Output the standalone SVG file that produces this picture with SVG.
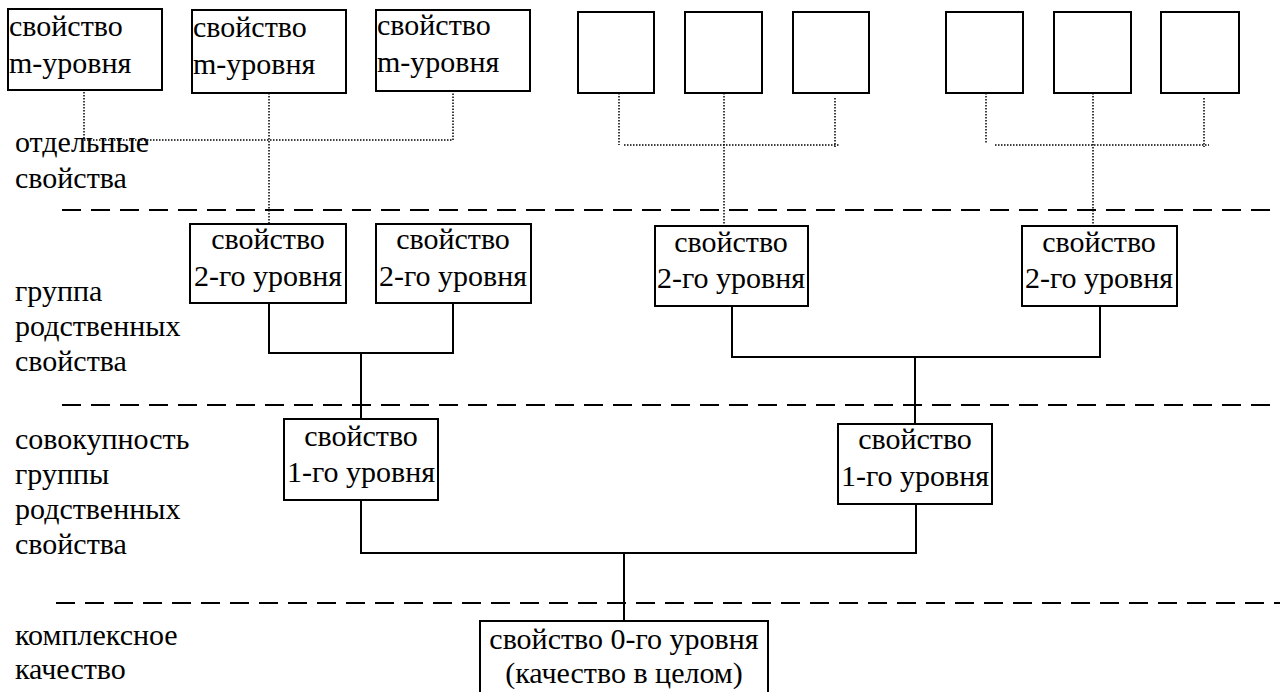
<svg xmlns="http://www.w3.org/2000/svg" width="1280" height="692" viewBox="0 0 1280 692">
<style>
  .box { fill: #fff; stroke: #000; stroke-width: 2; }
  .t { font-family: "Liberation Serif", "Times New Roman", serif; font-size: 30px; fill: #000; }
  .c { text-anchor: middle; }
  .dot { fill: none; stroke: #000; stroke-width: 1.5; stroke-dasharray: 1.5 1.5; }
  .sol { fill: none; stroke: #000; stroke-width: 2; }
  .dash { fill: none; stroke: #000; stroke-width: 2; stroke-dasharray: 19 10; }
</style>
<rect width="1280" height="692" fill="#fff"/>

<g id="levels">
  <line class="dash" x1="62" y1="210" x2="1280" y2="210"/>
  <line class="dash" x1="62" y1="405" x2="1280" y2="405"/>
  <line class="dash" x1="56" y1="603" x2="1280" y2="603"/>
</g>

<g id="labels">
  <text class="t" x="15" y="152">отдельные</text>
  <text class="t" x="15" y="188">свойства</text>
  <text class="t" x="15" y="301">группа</text>
  <text class="t" x="15" y="336">родственных</text>
  <text class="t" x="15" y="371">свойства</text>
  <text class="t" x="15" y="449">совокупность</text>
  <text class="t" x="15" y="484">группы</text>
  <text class="t" x="15" y="519">родственных</text>
  <text class="t" x="15" y="554">свойства</text>
  <text class="t" x="15" y="645">комплексное</text>
  <text class="t" x="15" y="679">качество</text>
</g>

<g id="connectors">
  <path class="dot" d="M84,92 V140 H453 V92"/>
  <path class="dot" d="M269,93 V224"/>
  <path class="dot" d="M619,93 V145"/>
  <path class="dot" d="M624,145 H840"/>
  <path class="dot" d="M835,98 V147"/>
  <path class="dot" d="M724,93 V226"/>
  <path class="dot" d="M986,93 V144"/>
  <path class="dot" d="M995,145 H1209"/>
  <path class="dot" d="M1204,98 V147"/>
  <path class="dot" d="M1093,93 V226"/>
  <path class="sol" d="M269,303 V353 H453 V303"/>
  <path class="sol" d="M361,353 V419"/>
  <path class="sol" d="M732,306 V357 H1100 V306"/>
  <path class="sol" d="M915,357 V424"/>
  <path class="sol" d="M361,500 V553 H916 V504"/>
  <path class="sol" d="M624,553 V621"/>
</g>

<g id="m1">
  <rect class="box" x="8" y="9" width="154" height="81"/>
  <text class="t" x="9" y="36">свойство</text>
  <text class="t" x="9" y="73">m-уровня</text>
</g>
<g id="m2">
  <rect class="box" x="192" y="10" width="154" height="83"/>
  <text class="t" x="193" y="37">свойство</text>
  <text class="t" x="193" y="74">m-уровня</text>
</g>
<g id="m3">
  <rect class="box" x="376" y="10" width="154" height="81"/>
  <text class="t" x="377" y="35">свойство</text>
  <text class="t" x="377" y="72">m-уровня</text>
</g>
<g id="e1"><rect class="box" x="578" y="12" width="76" height="81"/></g>
<g id="e2"><rect class="box" x="685" y="12" width="77" height="81"/></g>
<g id="e3"><rect class="box" x="793" y="12" width="76" height="81"/></g>
<g id="e4"><rect class="box" x="946" y="12" width="77" height="81"/></g>
<g id="e5"><rect class="box" x="1054" y="12" width="77" height="81"/></g>
<g id="e6"><rect class="box" x="1161" y="12" width="78" height="81"/></g>

<g id="l2a">
  <rect class="box" x="190" y="224" width="156" height="79"/>
  <text class="t c" x="268" y="249">свойство</text>
  <text class="t c" x="268" y="286">2-го уровня</text>
</g>
<g id="l2b">
  <rect class="box" x="376" y="224" width="155" height="79"/>
  <text class="t c" x="453" y="249">свойство</text>
  <text class="t c" x="453" y="286">2-го уровня</text>
</g>
<g id="l2c">
  <rect class="box" x="655" y="226" width="153" height="80"/>
  <text class="t c" x="731" y="252">свойство</text>
  <text class="t c" x="731" y="288">2-го уровня</text>
</g>
<g id="l2d">
  <rect class="box" x="1022" y="226" width="155" height="80"/>
  <text class="t c" x="1099" y="252">свойство</text>
  <text class="t c" x="1099" y="288">2-го уровня</text>
</g>

<g id="l1a">
  <rect class="box" x="284" y="419" width="154" height="81"/>
  <text class="t c" x="361" y="446">свойство</text>
  <text class="t c" x="361" y="482">1-го уровня</text>
</g>
<g id="l1b">
  <rect class="box" x="838" y="424" width="154" height="80"/>
  <text class="t c" x="915" y="449">свойство</text>
  <text class="t c" x="915" y="486">1-го уровня</text>
</g>

<g id="l0">
  <rect class="box" x="480" y="621" width="288" height="80"/>
  <text class="t c" x="624" y="649">свойство 0-го уровня</text>
  <text class="t c" x="624" y="683">(качество в целом)</text>
</g>
</svg>
